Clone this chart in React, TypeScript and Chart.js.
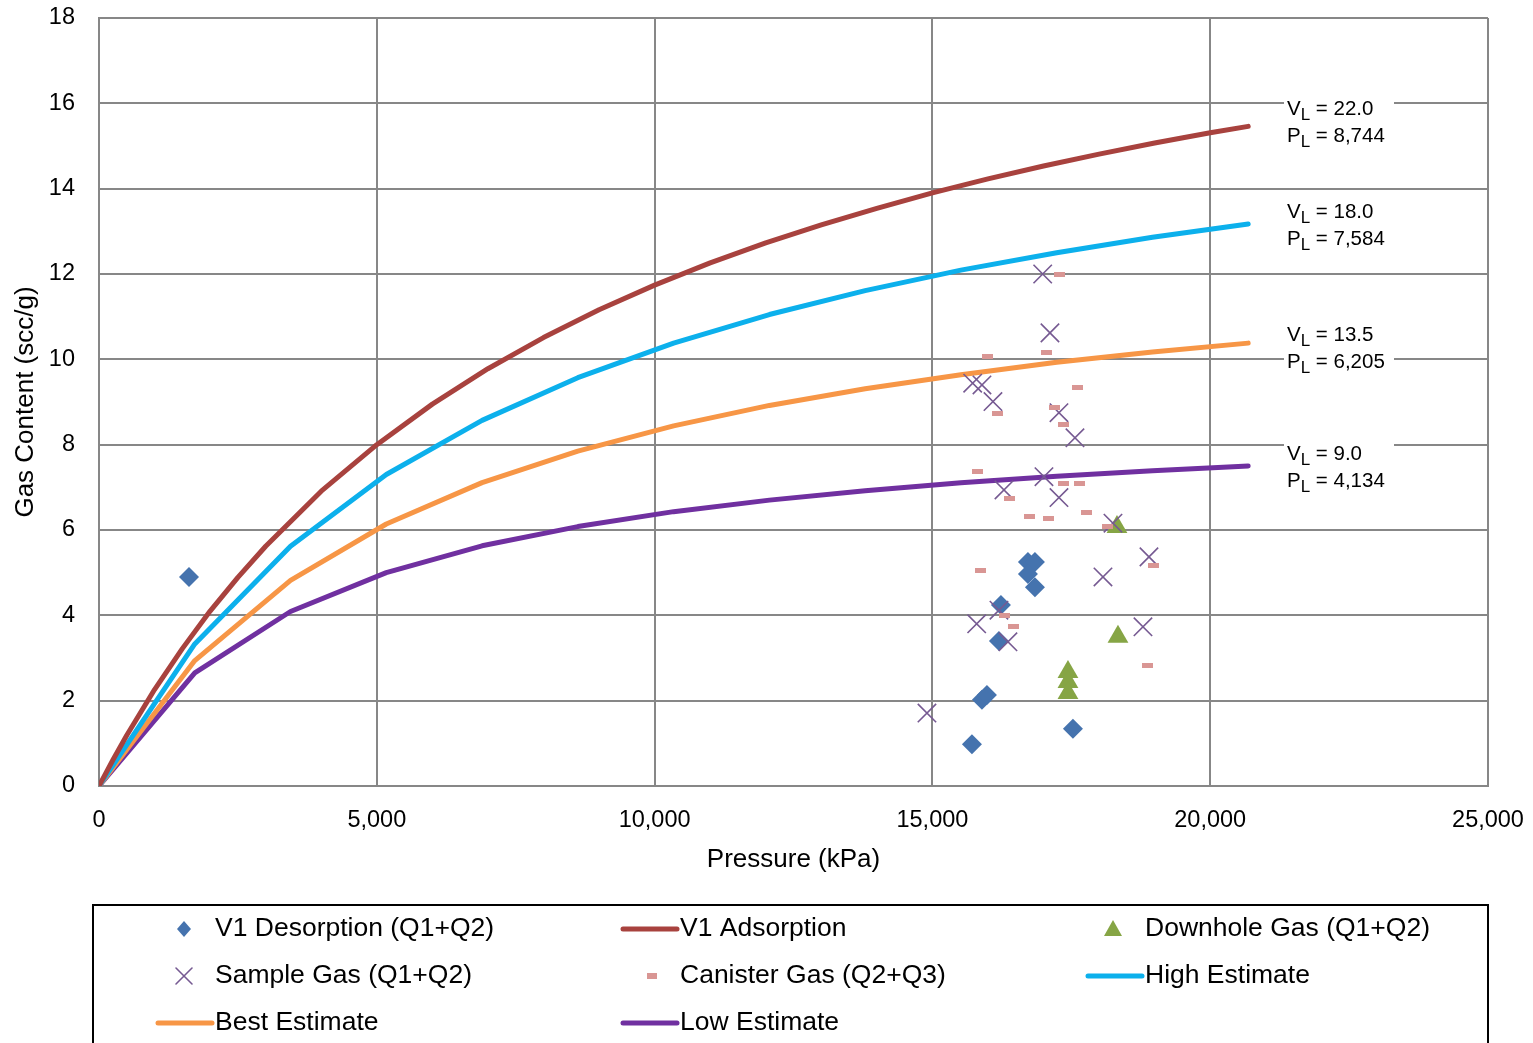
import React, { useEffect, useRef } from 'react';
import { Chart, registerables } from 'chart.js';

Chart.register(...registerables);

// ---- Isotherm curves (pressure in kPa, gas content in scc/g) ----
const adsorptionP = [0, 250, 500, 1000, 1500, 2000, 2500, 3000, 4000, 5000, 6000, 7000, 8000, 9000, 10000, 11000, 12000, 13000, 14000, 15000, 16000, 17000, 18000, 19000, 20000, 20684];
const v1Adsorption = [0, 0.61, 1.19, 2.26, 3.22, 4.10, 4.89, 5.62, 6.91, 8.00, 8.95, 9.78, 10.51, 11.16, 11.74, 12.26, 12.73, 13.15, 13.54, 13.90, 14.23, 14.53, 14.81, 15.07, 15.31, 15.46];

const curvePressure = [0, 1724, 3447, 5171, 6895, 8618, 10342, 12066, 13790, 15513, 17237, 18961, 20684];
const highEstimate = [0, 3.33, 5.62, 7.30, 8.57, 9.57, 10.38, 11.05, 11.61, 12.09, 12.50, 12.86, 13.17];
const bestEstimate = [0, 2.94, 4.82, 6.14, 7.11, 7.85, 8.44, 8.92, 9.31, 9.64, 9.93, 10.17, 10.38];
const lowEstimate = [0, 2.65, 4.09, 5.00, 5.63, 6.08, 6.43, 6.70, 6.92, 7.11, 7.26, 7.39, 7.50];

// ---- Measured data ----
const desorptionP = [1620, 16720, 16846, 16720, 16846, 16234, 16198, 15892, 15982, 15712, 17530];
const desorptionG = [4.90, 5.25, 5.25, 4.97, 4.66, 4.24, 3.40, 2.02, 2.13, 0.98, 1.34];

const downholeP = [18322, 18340, 17440, 17440, 17440];
const downholeG = [6.07, 3.50, 2.67, 2.44, 2.18];

const sampleP = [14902, 15797, 16360, 18790, 18898, 18070, 18250, 17278, 16288, 17008, 17566, 17278, 16090, 15892, 15725, 17116, 16985, 16198];
const sampleG = [1.71, 3.80, 3.38, 3.73, 5.37, 4.90, 6.16, 6.76, 6.94, 7.25, 8.16, 8.75, 9.01, 9.40, 9.44, 10.62, 12.00, 4.12];

const canisterP = [17296, 15995, 17062, 17615, 16180, 17194, 17356, 15820, 16384, 17356, 17644, 16744, 17098, 17777, 18155, 18988, 15862, 16294, 16456, 18875];
const canisterG = [12.00, 10.06, 10.17, 9.33, 8.74, 8.88, 8.48, 7.38, 6.73, 7.09, 7.09, 6.32, 6.27, 6.40, 6.08, 5.16, 5.04, 3.99, 3.75, 2.82];

// ---- Langmuir parameter labels ----
const langmuirVL = ['22.0', '18.0', '13.5', '9.0'];
const langmuirPL = ['8,744', '7,584', '6,205', '4,134'];

// ---- Axis ticks ----
const xMin = 0, xMax = 25000, xStep = 5000;
const yMin = 0, yMax = 18, yStep = 2;

const FONT = '"Liberation Sans", Arial, sans-serif';
const GRID = '#878787';
const C_DES = '#4573ae';
const C_ADS = '#a8423e';
const C_DOWN = '#86a545';
const C_SAMPLE = '#765a92';
const C_CAN = '#d99694';
const C_HIGH = '#0cb0ec';
const C_BEST = '#f79646';
const C_LOW = '#7030a0';

const zip = (xs: number[], ys: number[]) => xs.map((x, i) => ({ x, y: ys[i] }));

function drawMarker(ctx: CanvasRenderingContext2D, kind: string, x: number, y: number) {
  ctx.save();
  if (kind === 'diamond') {
    ctx.fillStyle = C_DES;
    ctx.beginPath();
    ctx.moveTo(x, y - 8); ctx.lineTo(x + 7, y); ctx.lineTo(x, y + 8); ctx.lineTo(x - 7, y);
    ctx.closePath(); ctx.fill();
  } else if (kind === 'triangle') {
    ctx.fillStyle = C_DOWN;
    ctx.beginPath();
    ctx.moveTo(x, y - 9); ctx.lineTo(x + 9, y + 7); ctx.lineTo(x - 9, y + 7);
    ctx.closePath(); ctx.fill();
  } else if (kind === 'cross') {
    ctx.strokeStyle = C_SAMPLE; ctx.lineWidth = 1.6;
    ctx.beginPath();
    ctx.moveTo(x - 8, y - 8); ctx.lineTo(x + 8, y + 8);
    ctx.moveTo(x + 8, y - 8); ctx.lineTo(x - 8, y + 8);
    ctx.stroke();
  } else if (kind === 'dash') {
    ctx.fillStyle = C_CAN;
    ctx.fillRect(x - 5, y - 3, 10, 6);
  }
  ctx.restore();
}

const legendItems = [
  { label: 'V1 Desorption (Q1+Q2)', kind: 'diamond', color: C_DES, mx: 184, lx: [0, 0], tx: 215, row: 0 },
  { label: 'V1 Adsorption', kind: 'line', color: C_ADS, mx: 0, lx: [623, 677], tx: 680, row: 0 },
  { label: 'Downhole Gas (Q1+Q2)', kind: 'triangle', color: C_DOWN, mx: 1113, lx: [0, 0], tx: 1145, row: 0 },
  { label: 'Sample Gas (Q1+Q2)', kind: 'cross', color: C_SAMPLE, mx: 184, lx: [0, 0], tx: 215, row: 1 },
  { label: 'Canister Gas (Q2+Q3)', kind: 'dash', color: C_CAN, mx: 652, lx: [0, 0], tx: 680, row: 1 },
  { label: 'High Estimate', kind: 'line', color: C_HIGH, mx: 0, lx: [1088, 1142], tx: 1145, row: 1 },
  { label: 'Best Estimate', kind: 'line', color: C_BEST, mx: 0, lx: [158, 212], tx: 215, row: 2 },
  { label: 'Low Estimate', kind: 'line', color: C_LOW, mx: 0, lx: [623, 677], tx: 680, row: 2 },
];
const legendRowsY = [928, 975, 1022];

const annotCenterY = [109, 212.5, 335.5, 454];

const customPlugin = {
  id: 'custom',
  afterDatasetsDraw(chart: any) {
    const ctx: CanvasRenderingContext2D = chart.ctx;
    ctx.save();
    for (let i = 0; i < langmuirVL.length; i++) {
      const cy = annotCenterY[i];
      const py = cy + 27;
      ctx.fillStyle = '#ffffff';
      ctx.fillRect(1284, cy - 13, 110, py - cy + 26);
      const rows: [string, string, number][] = [['V', ' = ' + langmuirVL[i], cy], ['P', ' = ' + langmuirPL[i], py]];
      for (const [main, rest, yy] of rows) {
        let x = 1287;
        ctx.fillStyle = '#000';
        ctx.textBaseline = 'middle';
        ctx.textAlign = 'left';
        ctx.font = `20.5px ${FONT}`;
        ctx.fillText(main, x, yy);
        x += ctx.measureText(main).width;
        ctx.font = `17px ${FONT}`;
        ctx.fillText('L', x, yy + 6);
        x += ctx.measureText('L').width;
        ctx.font = `20.5px ${FONT}`;
        ctx.fillText(rest, x, yy);
      }
    }
    ctx.restore();
  },
  afterDraw(chart: any) {
    const ctx: CanvasRenderingContext2D = chart.ctx;
    ctx.save();
    ctx.strokeStyle = '#000';
    ctx.lineWidth = 2;
    ctx.strokeRect(93, 905, 1395, 200);
    ctx.font = `26.5px ${FONT}`;
    ctx.textBaseline = 'middle';
    ctx.textAlign = 'left';
    for (const it of legendItems) {
      const y = legendRowsY[it.row];
      if (it.kind === 'line') {
        ctx.strokeStyle = it.color;
        ctx.lineWidth = 5;
        ctx.lineCap = 'round';
        ctx.beginPath();
        ctx.moveTo(it.lx[0], y + 1);
        ctx.lineTo(it.lx[1], y + 1);
        ctx.stroke();
      } else {
        drawMarker(ctx, it.kind, it.mx, y + 1);
      }
      ctx.fillStyle = '#000';
      ctx.fillText(it.label, it.tx, y + 1);
    }
    ctx.restore();
  },
};

export default function App() {
  const ref = useRef<HTMLCanvasElement>(null);
  useEffect(() => {
    const canvas = ref.current!;
    const dash = document.createElement('canvas');
    dash.width = 11; dash.height = 5;
    const dctx = dash.getContext('2d')!;
    dctx.fillStyle = C_CAN;
    dctx.fillRect(0, 0, 11, 5);

    const lineDs = (label: string, xs: number[], ys: number[], color: string) => ({
      label,
      data: zip(xs, ys),
      showLine: true,
      borderColor: color,
      backgroundColor: color,
      borderWidth: 5,
      pointRadius: 0,
      pointHoverRadius: 0,
      tension: 0,
      borderCapStyle: 'round',
      borderJoinStyle: 'round',
      order: 10,
    });

    const chart = new Chart(canvas, {
      type: 'scatter',
      data: {
        datasets: [
          {
            label: 'V1 Desorption (Q1+Q2)', data: zip(desorptionP, desorptionG),
            pointStyle: 'rectRot', pointRadius: 10, backgroundColor: C_DES, borderColor: C_DES, borderWidth: 0, order: 4,
          },
          lineDs('V1 Adsorption', adsorptionP, v1Adsorption, C_ADS) as any,
          {
            label: 'Downhole Gas (Q1+Q2)', data: zip(downholeP, downholeG),
            pointStyle: 'triangle', pointRadius: 12, backgroundColor: C_DOWN, borderColor: C_DOWN, borderWidth: 0, order: 3,
          },
          {
            label: 'Sample Gas (Q1+Q2)', data: zip(sampleP, sampleG),
            pointStyle: 'crossRot', pointRadius: 13, borderColor: C_SAMPLE, backgroundColor: C_SAMPLE, borderWidth: 1.6, order: 2,
          },
          {
            label: 'Canister Gas (Q2+Q3)', data: zip(canisterP, canisterG),
            pointStyle: dash as any, pointRadius: 6, backgroundColor: C_CAN, borderColor: C_CAN, order: 1,
          },
          lineDs('High Estimate', curvePressure, highEstimate, C_HIGH) as any,
          lineDs('Best Estimate', curvePressure, bestEstimate, C_BEST) as any,
          lineDs('Low Estimate', curvePressure, lowEstimate, C_LOW) as any,
        ],
      },
      options: {
        responsive: false,
        animation: false,
        devicePixelRatio: 1,
        layout: { padding: { left: 0, right: 45, top: 18, bottom: 163 } },
        plugins: { legend: { display: false }, tooltip: { enabled: false } },
        events: [],
        scales: {
          x: {
            type: 'linear', min: xMin, max: xMax,
            ticks: {
              stepSize: xStep, color: '#000', font: { family: FONT, size: 23.5 }, padding: 20,
              maxRotation: 0, autoSkip: false,
              callback: (v: any) => Number(v).toLocaleString('en-US'),
            },
            grid: { color: GRID, lineWidth: 2, drawTicks: false },
            border: { color: GRID, width: 2 },
            title: { display: true, text: 'Pressure (kPa)', color: '#000', font: { family: FONT, size: 26 }, padding: { top: 0, bottom: 5 } },
            afterFit: (s: any) => { s.height = 94; s.paddingLeft = 0; s.paddingRight = 0; },
          },
          y: {
            type: 'linear', min: yMin, max: yMax,
            ticks: { stepSize: yStep, color: '#000', font: { family: FONT, size: 23.5 }, padding: 24 },
            grid: { color: GRID, lineWidth: 2, drawTicks: false },
            border: { color: GRID, width: 2 },
            title: { display: true, text: 'Gas Content (scc/g)', color: '#000', font: { family: FONT, size: 26 }, padding: { top: 10, bottom: 0 } },
            afterFit: (s: any) => { s.width = 99; s.paddingTop = 0; s.paddingBottom = 0; },
          },
        },
      } as any,
      plugins: [customPlugin],
    });
    return () => chart.destroy();
  }, []);

  return (
    <div style={{ position: 'absolute', left: 0, top: 0, width: 1533, height: 1043, overflow: 'hidden', background: '#fff' }}>
      <canvas ref={ref} width={1533} height={1043} style={{ display: 'block', width: 1533, height: 1043 }} />
    </div>
  );
}
